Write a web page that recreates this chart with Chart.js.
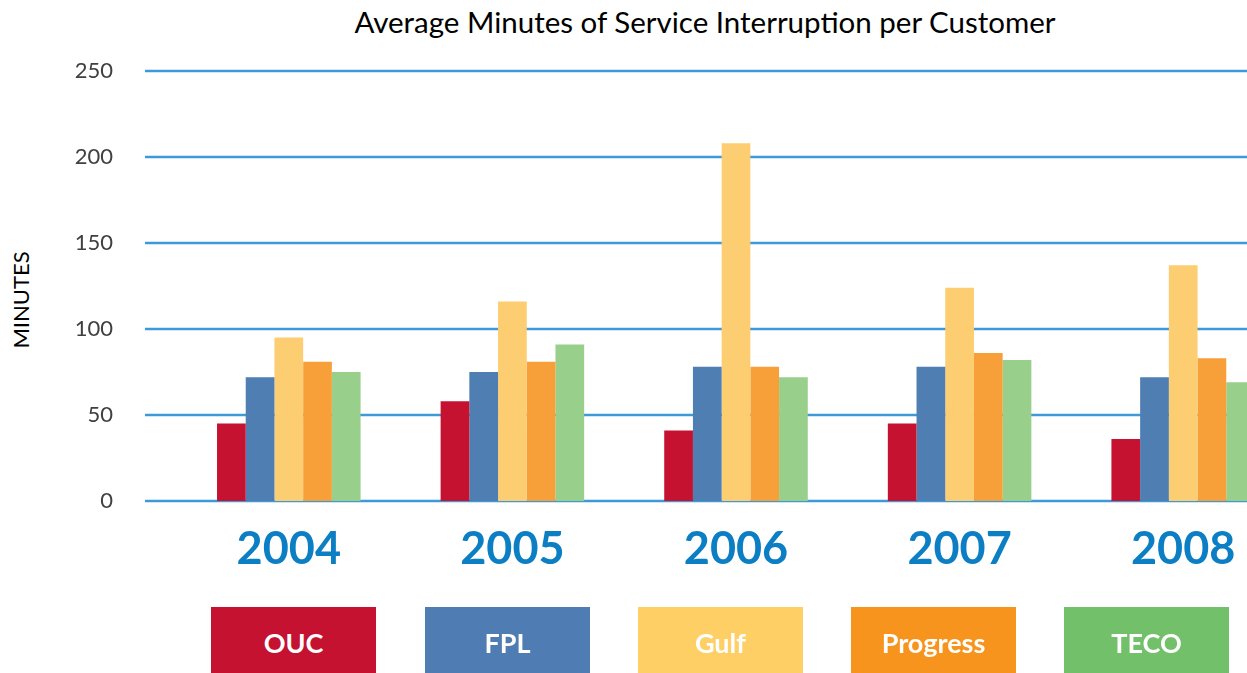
<!DOCTYPE html>
<html>
<head>
<meta charset="utf-8">
<script src="https://cdn.jsdelivr.net/npm/chart.js@4"></script>
<style>
  body { margin: 0; overflow: hidden; background: #fff; width: 1247px; height: 673px; position: relative; font-family: Lato, sans-serif; }
  #wrap { position: absolute; left: 0; top: 0; width: 1300px; height: 621px; }
  #title { position: absolute; top: 4px; left: 255px; width: 900px; text-align: center; font-size: 29.5px; line-height: 36px; color: #000; }
  #ylabel { position: absolute; left: 20px; top: 300px; transform: translate(-50%, -50%) rotate(-90deg); font-size: 22px; color: #000; white-space: nowrap; }
  .key { position: absolute; top: 607px; width: 165px; height: 72px; line-height: 72px; text-align: center; color: #fff; font-weight: bold; font-size: 27px; }
</style>
</head>
<body>
<div id="title">Average Minutes of Service Interruption per Customer</div>
<div id="ylabel">MINUTES</div>
<div id="wrap"><canvas id="chart"></canvas></div>
<div id="legend"></div>
<script>
const years = ['2004', '2005', '2006', '2007', '2008'];
const companies = ['OUC', 'FPL', 'Gulf', 'Progress', 'TECO'];
const ouc = [45, 58, 41, 45, 36];
const fpl = [72, 75, 78, 78, 72];
const gulf = [95, 116, 208, 124, 137];
const progress = [81, 81, 78, 86, 83];
const teco = [75, 91, 72, 82, 69];
const yTicks = [0, 50, 100, 150, 200, 250];

const barColors = ['#c41230', '#4f7eb3', '#fdcd72', '#f79f38', '#98cf8b'];
const keyColors = ['#c41230', '#4f7db3', '#fdcf65', '#f7941d', '#72c06a'];
const seriesValues = [ouc, fpl, gulf, progress, teco];

// gridlines start left of the plot area, so draw them from the y scale
const leftGrid = {
  id: 'leftGrid',
  beforeDatasetsDraw(chart) {
    const { ctx, chartArea, scales: { y } } = chart;
    ctx.save();
    ctx.strokeStyle = '#3d9ad6';
    ctx.lineWidth = 2.5;
    y.ticks.forEach((t) => {
      const py = Math.round(y.getPixelForValue(t.value));
      ctx.beginPath();
      ctx.moveTo(145, py);
      ctx.lineTo(chartArea.right, py);
      ctx.stroke();
    });
    ctx.restore();
  },
};

const ctx = document.getElementById('chart').getContext('2d');
new Chart(ctx, {
  type: 'bar',
  data: {
    labels: years,
    datasets: companies.map((name, i) => ({
      label: name,
      data: seriesValues[i],
      backgroundColor: barColors[i],
      borderWidth: 0,
      categoryPercentage: 0.642,
      barPercentage: 1,
    })),
  },
  options: {
    responsive: true,
    maintainAspectRatio: false,
    animation: false,
    layout: { padding: { top: 71, right: 5, bottom: 24, left: 0 } },
    plugins: {
      legend: { display: false },
      tooltip: { enabled: false },
    },
    scales: {
      x: {
        grid: { display: false, drawTicks: false },
        border: { display: false },
        ticks: {
          padding: 21,
          color: '#0c7fc4',
          font: { family: 'Lato', size: 45, weight: 'bold' },
        },
      },
      y: {
        min: 0,
        max: 250,
        afterBuildTicks: (scale) => {
          scale.ticks = yTicks.map((v) => ({ value: v }));
        },
        afterFit: (scale) => {
          // fixed axis width; the big tick padding should not push the plot down
          scale.width = 177;
          scale.paddingTop = 0;
          scale.paddingBottom = 0;
        },
        grid: { display: false, drawTicks: false },
        border: { display: false },
        ticks: {
          padding: 64,
          color: '#404040',
          font: { family: 'Lato', size: 22 },
        },
      },
    },
  },
  plugins: [leftGrid],
});

// Legend boxes
const legend = document.getElementById('legend');
const keyLefts = [211, 425, 638, 851, 1064];
companies.forEach((name, i) => {
  const div = document.createElement('div');
  div.className = 'key';
  div.style.left = keyLefts[i] + 'px';
  div.style.background = keyColors[i];
  div.textContent = name;
  legend.appendChild(div);
});
</script>
</body>
</html>
